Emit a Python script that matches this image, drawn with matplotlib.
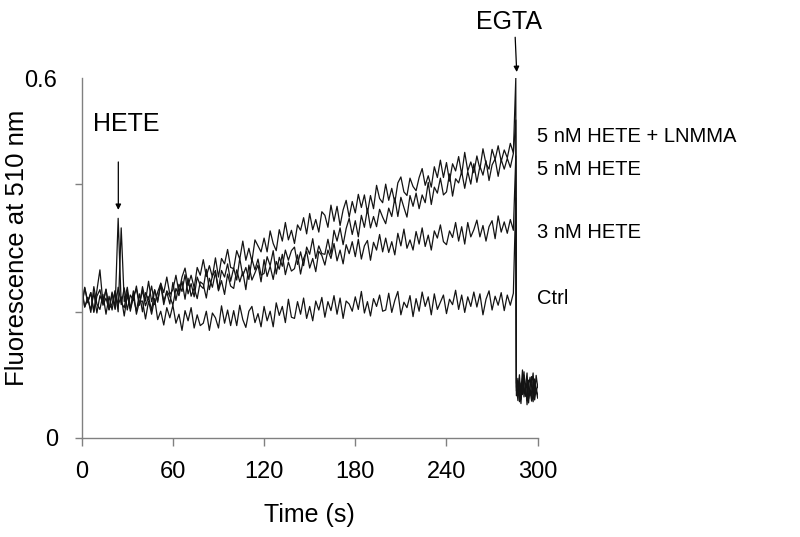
import numpy as np
import matplotlib
matplotlib.use("Agg")
import matplotlib.pyplot as plt

plt.rcParams['font.family'] = ['Liberation Sans', 'DejaVu Sans']

# sample times (s): 2 s grid up to 284, EGTA spike, then 1 s grid to 300
t_main = np.arange(0, 285, 2)
t_egta = [285.6]
t_post = np.arange(286, 301, 1)
time = np.concatenate([t_main, t_egta, t_post])

# traces (fluorescence at 510 nm)
lnmma = [0.219,0.251,0.227,0.242,0.211,0.246,0.280,0.224,0.248,0.214,
         0.243,0.216,0.366,0.222,0.250,0.213,0.238,0.229,0.253,0.221,
         0.252,0.228,0.261,0.227,0.246,0.226,0.258,0.242,0.268,0.239,
         0.247,0.271,0.242,0.268,0.283,0.254,0.271,0.250,0.284,0.271,
         0.297,0.269,0.287,0.268,0.300,0.268,0.299,0.290,0.314,0.284,
         0.282,0.312,0.298,0.328,0.296,0.316,0.294,0.330,0.320,0.310,
         0.333,0.310,0.345,0.324,0.312,0.347,0.328,0.359,0.330,0.346,
         0.324,0.355,0.346,0.367,0.340,0.374,0.347,0.364,0.343,0.377,
         0.371,0.351,0.388,0.361,0.386,0.354,0.380,0.396,0.368,0.394,
         0.375,0.406,0.384,0.405,0.375,0.404,0.382,0.421,0.399,0.392,
         0.423,0.396,0.416,0.392,0.425,0.435,0.410,0.404,0.433,0.419,
         0.412,0.434,0.449,0.421,0.437,0.418,0.452,0.434,0.463,0.434,
         0.459,0.428,0.457,0.445,0.469,0.439,0.476,0.445,0.460,0.442,
         0.470,0.448,0.482,0.457,0.448,0.481,0.464,0.487,0.461,0.480,
         0.467,0.491,0.475,
         0.600,
         0.092,0.071,0.105,0.064,0.088,0.110,0.069,0.097,0.058,0.085,
         0.102,0.066,0.094,0.075,0.089]

hete5 = [0.250,0.218,0.232,0.213,0.242,0.208,0.237,0.224,0.247,0.215,
         0.223,0.245,0.210,0.350,0.227,0.251,0.216,0.234,0.211,0.240,
         0.210,0.242,0.230,0.253,0.222,0.243,0.257,0.228,0.243,0.223,
         0.259,0.229,0.256,0.244,0.272,0.240,0.257,0.235,0.268,0.254,
         0.249,0.281,0.247,0.270,0.279,0.247,0.279,0.268,0.290,0.261,
         0.283,0.263,0.299,0.270,0.284,0.264,0.298,0.280,0.298,0.271,
         0.274,0.302,0.287,0.312,0.273,0.301,0.286,0.313,0.296,0.312,
         0.318,0.289,0.310,0.287,0.318,0.306,0.332,0.299,0.320,0.307,
         0.306,0.331,0.306,0.346,0.328,0.350,0.322,0.349,0.366,0.339,
         0.362,0.335,0.371,0.351,0.382,0.350,0.369,0.352,0.381,0.368,
         0.357,0.383,0.369,0.400,0.369,0.401,0.384,0.368,0.404,0.386,
         0.408,0.382,0.405,0.392,0.426,0.389,0.418,0.408,0.433,0.405,
         0.410,0.440,0.403,0.432,0.425,0.444,0.416,0.444,0.423,0.457,
         0.426,0.453,0.438,0.462,0.429,0.455,0.465,0.436,0.464,0.448,
         0.466,0.451,0.474,
         0.530,
         0.078,0.099,0.060,0.091,0.072,0.104,0.083,0.062,0.096,0.070,
         0.088,0.108,0.063,0.082,0.071]

hete3 = [0.217,0.250,0.225,0.242,0.209,0.236,0.247,0.221,0.233,0.213,
         0.240,0.214,0.251,0.225,0.217,0.244,0.211,0.236,0.248,0.222,
         0.246,0.220,0.235,0.212,0.247,0.229,0.255,0.222,0.245,0.236,
         0.221,0.249,0.237,0.261,0.231,0.266,0.236,0.250,0.232,0.260,
         0.256,0.233,0.266,0.251,0.276,0.245,0.262,0.239,0.273,0.253,
         0.249,0.280,0.260,0.277,0.247,0.288,0.263,0.275,0.288,0.260,
         0.297,0.269,0.286,0.264,0.294,0.281,0.306,0.272,0.293,0.278,
         0.282,0.305,0.273,0.299,0.311,0.283,0.299,0.277,0.311,0.304,
         0.288,0.313,0.299,0.324,0.295,0.313,0.290,0.322,0.307,0.327,
         0.302,0.331,0.298,0.320,0.329,0.296,0.326,0.313,0.339,0.310,
         0.333,0.309,0.327,0.305,0.341,0.320,0.348,0.316,0.330,0.313,
         0.344,0.323,0.350,0.319,0.338,0.313,0.345,0.333,0.355,0.327,
         0.322,0.345,0.334,0.359,0.328,0.352,0.323,0.359,0.335,0.347,
         0.363,0.335,0.354,0.328,0.352,0.362,0.332,0.370,0.343,0.360,
         0.341,0.364,0.346,
         0.470,
         0.085,0.062,0.094,0.077,0.113,0.068,0.090,0.055,0.087,0.101,
         0.073,0.060,0.098,0.079,0.066]

ctrl = [0.244,0.218,0.234,0.209,0.252,0.223,0.214,0.239,0.206,0.236,
        0.213,0.245,0.222,0.235,0.203,0.238,0.215,0.245,0.206,0.227,
        0.228,0.198,0.228,0.206,0.232,0.197,0.211,0.188,0.217,0.200,
        0.221,0.191,0.206,0.179,0.212,0.195,0.217,0.183,0.205,0.187,
        0.191,0.211,0.179,0.208,0.200,0.183,0.220,0.191,0.213,0.187,
        0.212,0.187,0.221,0.197,0.184,0.211,0.219,0.192,0.207,0.185,
        0.219,0.195,0.211,0.185,0.225,0.204,0.219,0.192,0.231,0.201,
        0.199,0.227,0.206,0.233,0.199,0.219,0.195,0.228,0.213,0.234,
        0.201,0.227,0.212,0.237,0.206,0.233,0.199,0.228,0.223,0.211,
        0.235,0.214,0.244,0.208,0.227,0.203,0.232,0.219,0.238,0.211,
        0.213,0.241,0.209,0.229,0.244,0.205,0.226,0.217,0.237,0.202,
        0.232,0.211,0.243,0.219,0.235,0.205,0.240,0.214,0.226,0.238,
        0.207,0.231,0.222,0.246,0.214,0.238,0.209,0.235,0.219,0.243,
        0.218,0.240,0.205,0.231,0.245,0.213,0.236,0.221,0.242,0.212,
        0.238,0.221,0.241,
        0.400,
        0.070,0.095,0.081,0.057,0.099,0.074,0.086,0.108,0.065,0.079,
        0.061,0.093,0.072,0.104,0.084]

labels = ["5 nM HETE + LNMMA", "5 nM HETE", "3 nM HETE", "Ctrl"]
label_y = [0.502, 0.448, 0.343, 0.233]

fig = plt.figure(figsize=(8, 5.37), dpi=100)
ax = fig.add_axes([0.1021, 0.1849, 0.57, 0.6698])

for trace in [ctrl, hete3, hete5, lnmma]:
    ax.plot(time, trace, color='#141414', lw=0.9)

ax.set_xlim(0, 300)
ax.set_ylim(0, 0.6)
ax.set_xticks([0, 60, 120, 180, 240, 300])
ax.set_yticks([0, 0.21, 0.424])
ax.set_yticklabels(['0', '', ''])

for side in ['top', 'right']:
    ax.spines[side].set_visible(False)
for side in ['left', 'bottom']:
    ax.spines[side].set_color('#808080')
    ax.spines[side].set_linewidth(1.0)

ax.tick_params(axis='x', direction='out', length=6, width=1, color='#808080',
               labelsize=17, pad=11)
ax.tick_params(axis='y', direction='out', length=5, width=1, color='#808080',
               labelsize=17, pad=12)

ax.annotate('0.6', xy=(0, 0.6), xycoords=('axes fraction', 'data'),
            xytext=(-17.8, -2.5), textcoords='offset points',
            ha='right', va='center', fontsize=17)

fig.text(17.5 / 800, 1 - 247.5 / 537, 'Fluorescence at 510 nm', rotation=90,
         ha='center', va='center', fontsize=18.5)
fig.text(309.7 / 800, 1 - 515 / 537, 'Time (s)', ha='center', va='center',
         fontsize=18)

# series labels at the right end
for lab, yv in zip(labels, label_y):
    ax.text(299.5, yv, lab, ha='left', va='center', fontsize=14.5, clip_on=False)

# treatment markers
arrow = dict(arrowstyle='-|>', color='black', lw=0.9, mutation_scale=8,
             shrinkA=0, shrinkB=0)
ax.annotate('', xy=(24.1, 0.38), xytext=(24.1, 0.46), arrowprops=arrow)
ax.text(7.4, 0.523, 'HETE', ha='left', va='center', fontsize=18)
ax.annotate('', xy=(286.2, 0.61), xytext=(285.2, 0.668), arrowprops=arrow,
            annotation_clip=False)
ax.text(281.2, 0.693, 'EGTA', ha='center', va='center', fontsize=18,
        clip_on=False)

fig.savefig('out.png', dpi=100)
